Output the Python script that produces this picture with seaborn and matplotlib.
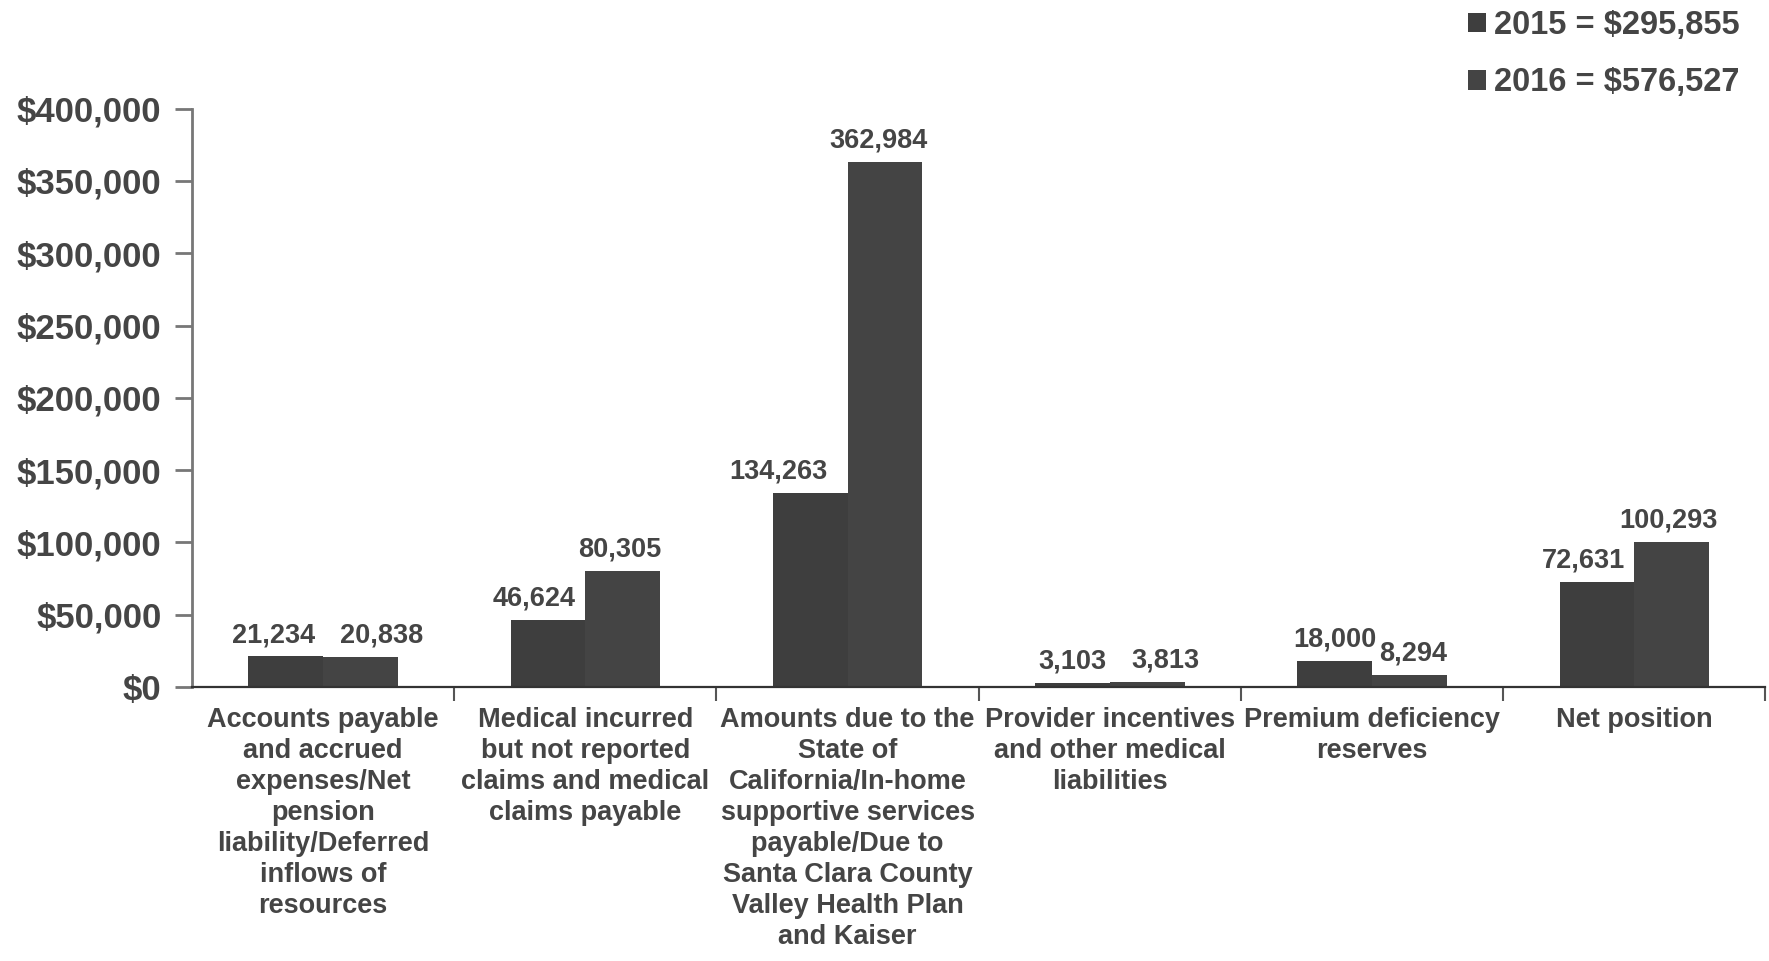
import matplotlib
matplotlib.use("Agg")
import matplotlib.pyplot as plt
from matplotlib.ticker import FuncFormatter, FixedLocator
import seaborn as sns
import pandas as pd

# Liabilities and net position by category (in thousands)
categories = [
    "Accounts payable\nand accrued\nexpenses/Net\npension\nliability/Deferred\ninflows of\nresources",
    "Medical incurred\nbut not reported\nclaims and medical\nclaims payable",
    "Amounts due to the\nState of\nCalifornia/In-home\nsupportive services\npayable/Due to\nSanta Clara County\nValley Health Plan\nand Kaiser",
    "Provider incentives\nand other medical\nliabilities",
    "Premium deficiency\nreserves",
    "Net position",
]
years = ["2015", "2016"]
values_2015 = [21234, 46624, 134263, 3103, 18000, 72631]
values_2016 = [20838, 80305, 362984, 3813, 8294, 100293]
y_ticks = [0, 50000, 100000, 150000, 200000, 250000, 300000, 350000, 400000]

# horizontal nudges (points) for value labels so neighbours don't collide
nudge_2015 = [-9, -10, -23, 0, 0, -10]
nudge_2016 = [15, -2, -5, 13, 3, -2]

df = pd.DataFrame({
    "category": categories * 2,
    "year": [years[0]] * len(categories) + [years[1]] * len(categories),
    "value": values_2015 + values_2016,
})

sns.set_theme(style="white")
plt.rcParams["font.family"] = ["Liberation Sans", "DejaVu Sans"]
plt.rcParams["font.weight"] = "bold"

TEXT = "#454545"
BAR_COLORS = ["#3e3e3e", "#444444"]

fig = plt.figure(figsize=(17.69, 9.61), dpi=100)
ax = fig.add_axes([0.1085, 0.285, 0.8895, 0.602])

sns.barplot(data=df, x="category", y="value", hue="year",
            order=categories, hue_order=years, palette=BAR_COLORS,
            width=0.57, saturation=1, linewidth=0, ax=ax, legend=True)

ax.set_xlim(-0.5, len(categories) - 0.5)
ax.set_ylim(0, 400000)
ax.yaxis.set_major_locator(FixedLocator(y_ticks))
ax.yaxis.set_major_formatter(FuncFormatter(lambda v, p: f"${v:,.0f}"))
ax.set_xlabel("")
ax.set_ylabel("")

for lab in ax.get_yticklabels():
    lab.set_fontsize(25)
    lab.set_fontweight("bold")
    lab.set_color(TEXT)
ax.tick_params(axis="y", which="major", length=12, width=2, color="#777777",
               pad=10, left=True, direction="out")

# category labels centred under groups, ticks at group boundaries
ax.tick_params(axis="x", which="major", length=0, pad=14)
for lab in ax.get_xticklabels():
    lab.set_fontsize(19.5)
    lab.set_fontweight("bold")
    lab.set_color(TEXT)
    lab.set_linespacing(1.25)
ax.xaxis.set_minor_locator(FixedLocator([i + 0.5 for i in range(len(categories))]))
ax.tick_params(axis="x", which="minor", length=10, width=1.5, color="#555555",
               bottom=True, direction="out")

for side in ["top", "right"]:
    ax.spines[side].set_visible(False)
ax.spines["left"].set_color("#777777")
ax.spines["left"].set_linewidth(2)
ax.spines["bottom"].set_color("#333333")
ax.spines["bottom"].set_linewidth(1.6)

# value labels above each bar
for container, vals, nudges in zip(ax.containers, [values_2015, values_2016],
                                   [nudge_2015, nudge_2016]):
    for bar, v, dx in zip(container, vals, nudges):
        ax.annotate(f"{v:,}", xy=(bar.get_x() + bar.get_width() / 2, bar.get_height()),
                    xytext=(dx, 6), textcoords="offset points",
                    ha="center", va="bottom", fontsize=19.5,
                    fontweight="bold", color=TEXT)

# legend with yearly totals
handles, _ = ax.get_legend_handles_labels()
totals = [sum(values_2015), sum(values_2016)]
labels = [f"{y} = ${t:,}" for y, t in zip(years, totals)]
ax.get_legend().remove()
leg = fig.legend(handles, labels, loc="upper right",
                 bbox_to_anchor=(1.0, 1.02), frameon=False,
                 fontsize=23.5, handlelength=0.55, handleheight=0.55,
                 handletextpad=0.25, labelspacing=0.8)
for t in leg.get_texts():
    t.set_color(TEXT)
    t.set_fontweight("bold")

fig.savefig("out.png", dpi=100, facecolor="white")
